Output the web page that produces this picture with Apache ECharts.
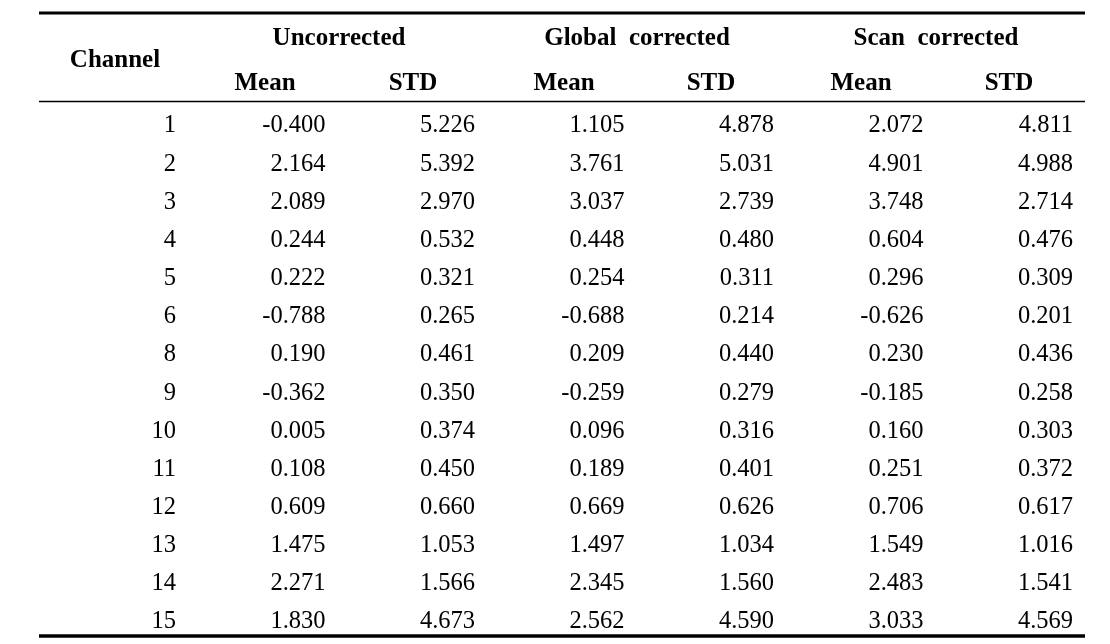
<!DOCTYPE html>
<html>
<head>
<meta charset="utf-8">
<script src="https://cdn.jsdelivr.net/npm/echarts@6/dist/echarts.min.js"></script>
<style>
html,body{margin:0;padding:0;background:#fff;}
#main{width:1110px;height:644px;}
</style>
</head>
<body>
<div id="main"></div>
<script>
var channels = [1, 2, 3, 4, 5, 6, 8, 9, 10, 11, 12, 13, 14, 15];
var uncorrMean = [-0.400, 2.164, 2.089, 0.244, 0.222, -0.788, 0.190, -0.362, 0.005, 0.108, 0.609, 1.475, 2.271, 1.830];
var uncorrStd = [5.226, 5.392, 2.970, 0.532, 0.321, 0.265, 0.461, 0.350, 0.374, 0.450, 0.660, 1.053, 1.566, 4.673];
var globalMean = [1.105, 3.761, 3.037, 0.448, 0.254, -0.688, 0.209, -0.259, 0.096, 0.189, 0.669, 1.497, 2.345, 2.562];
var globalStd = [4.878, 5.031, 2.739, 0.480, 0.311, 0.214, 0.440, 0.279, 0.316, 0.401, 0.626, 1.034, 1.560, 4.590];
var scanMean = [2.072, 4.901, 3.748, 0.604, 0.296, -0.626, 0.230, -0.185, 0.160, 0.251, 0.706, 1.549, 2.483, 3.033];
var scanStd = [4.811, 4.988, 2.714, 0.476, 0.309, 0.201, 0.436, 0.258, 0.303, 0.372, 0.617, 1.016, 1.541, 4.569];

var groupHeaders = ['Uncorrected', 'Global  corrected', 'Scan  corrected'];
var subHeaders = ['Mean', 'STD'];
var firstHeader = 'Channel';

var columns = [channels, uncorrMean, uncorrStd, globalMean, globalStd, scanMean, scanStd];

var cells = [];
columns.forEach(function (col, c) {
  col.forEach(function (v, r) {
    var txt = c === 0 ? String(v) : v.toFixed(3);
    cells.push([c, r, txt]);
  });
});

var FONT = "'Liberation Serif', 'Times New Roman', serif";
var chart = echarts.init(document.getElementById('main'), null, {renderer: 'canvas'});

var graphics = [];
graphics.push({type: 'line', shape: {x1: 39, y1: 13, x2: 1085, y2: 13}, style: {stroke: '#000', lineWidth: 3}});
graphics.push({type: 'line', shape: {x1: 39, y1: 101.5, x2: 1085, y2: 101.5}, style: {stroke: '#000', lineWidth: 1.5}});
graphics.push({type: 'line', shape: {x1: 39, y1: 636, x2: 1085, y2: 636}, style: {stroke: '#000', lineWidth: 3.5}});
var hdr = function (t, x, y) {
  return {type: 'text', x: x, y: y, style: {text: t, font: 'bold 25px ' + FONT, fill: '#000', align: 'center', verticalAlign: 'middle'}};
};
graphics.push(hdr(firstHeader, 115, 61));
var groupCenters = [339, 637, 936];
var subCenters = [[265, 413], [564, 711], [861, 1009]];
groupHeaders.forEach(function (g, i) {
  graphics.push(hdr(g, groupCenters[i], 39));
  subHeaders.forEach(function (s, j) {
    graphics.push(hdr(s, subCenters[i][j], 84));
  });
});

chart.setOption({
  animation: false,
  backgroundColor: '#fff',
  grid: {left: 176, right: 37, top: 126, bottom: 22, containLabel: false},
  xAxis: {type: 'value', min: 0, max: 6, show: false},
  yAxis: {type: 'value', min: 0, max: 13, inverse: true, show: false},
  series: [{
    type: 'scatter',
    data: cells,
    symbolSize: 0,
    itemStyle: {color: '#fff', opacity: 1},
    label: {
      show: true,
      position: 'left',
      distance: 0,
      formatter: function (p) { return p.value[2]; },
      fontFamily: FONT,
      fontSize: 24.5,
      color: '#000',
      opacity: 1
    }
  }],
  graphic: graphics
});
</script>
</body>
</html>
